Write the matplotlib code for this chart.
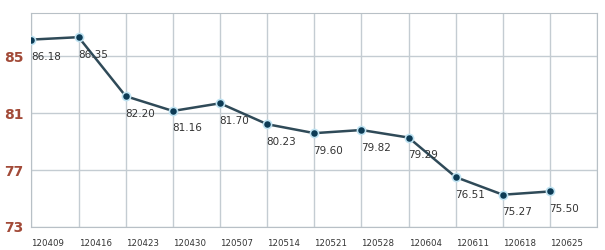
import matplotlib.pyplot as plt

# weekly values
dates = ['120409', '120416', '120423', '120430', '120507', '120514',
         '120521', '120528', '120604', '120611', '120618', '120625']
values = [86.18, 86.35, 82.20, 81.16, 81.70, 80.23,
          79.60, 79.82, 79.29, 76.51, 75.27, 75.50]
labels = ['86.18', '86.35', '82.20', '81.16', '81.70', '80.23',
          '79.60', '79.82', '79.29', '76.51', '75.27', '75.50']
yticks = [73, 77, 81, 85]

fig = plt.figure(figsize=(6.05, 2.5), dpi=100)
ax = fig.add_axes([0.052, 0.092, 0.935, 0.856])

x = list(range(len(values)))
ax.plot(x, values, color='#2f4a58', linewidth=1.8, zorder=3)
ax.scatter(x, values, s=50, color='#bfe3f2', zorder=4, linewidths=0)  # glow
ax.scatter(x, values, s=22, color='#0c3b55', zorder=5, linewidths=0)

for xi, v, lab in zip(x, values, labels):
    ax.annotate(lab, (xi, v), xytext=(-0.5, -9), textcoords='offset points',
                ha='left', va='top', fontsize=7.5, color='#333333', zorder=6)

ax.set_xlim(0, 12)
ax.set_ylim(73, 88.05)
ax.set_xticks(range(13))
ax.set_xticklabels(dates + [''], fontsize=6.2, color='#333333')
ax.set_yticks(yticks)
ax.set_yticklabels([str(t) for t in yticks], fontsize=10, fontweight='bold',
                   color='#a24a38')
ax.tick_params(length=0)
ax.tick_params(axis='x', pad=9)
ax.tick_params(axis='y', pad=6)
for lbl in ax.get_xticklabels():
    lbl.set_horizontalalignment('left')
ax.grid(True, color='#c4ccd2', linewidth=1)
for s in ax.spines.values():
    s.set_color('#b8c0c6')
ax.set_axisbelow(True)

fig.savefig('out.png', dpi=100)
